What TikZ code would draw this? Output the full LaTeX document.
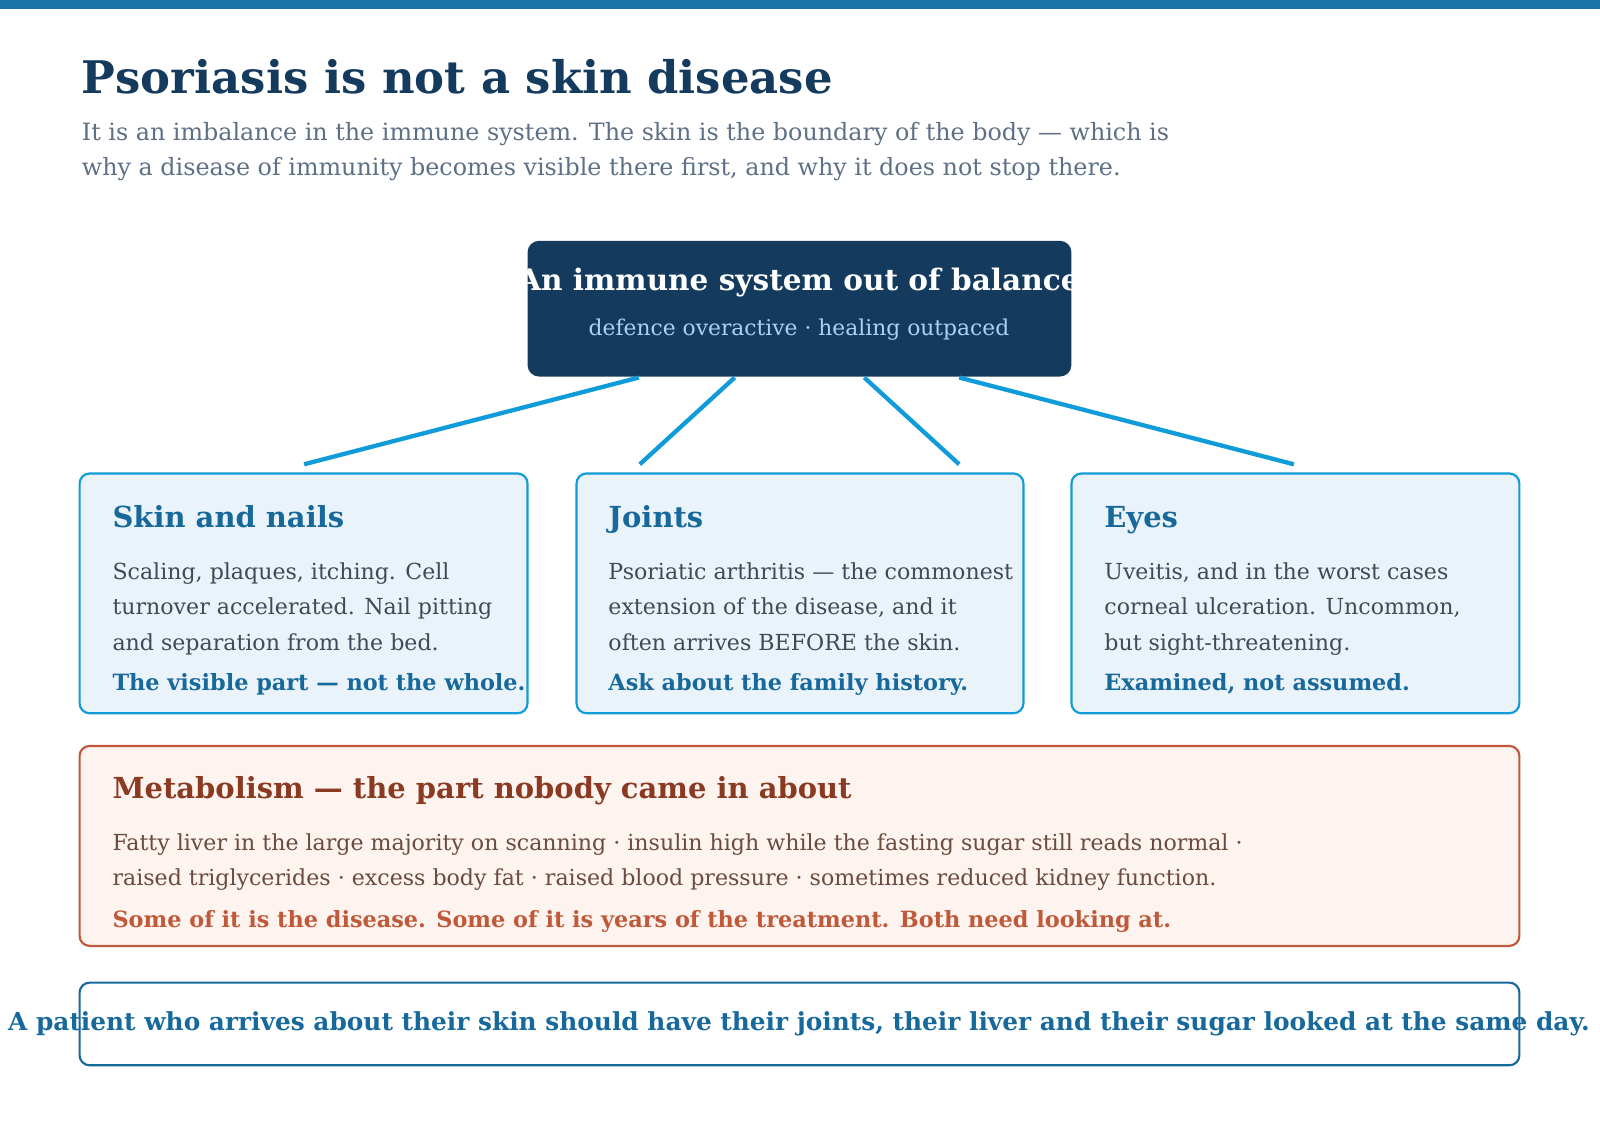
\documentclass[tikz,border=0pt]{standalone}
\usepackage{fontspec}
\setmainfont{DejaVu Serif}
\usetikzlibrary{positioning}
\definecolor{navy}{HTML}{143A5E}
\definecolor{topbar}{HTML}{1A72A8}
\definecolor{sky}{HTML}{109BD9}
\definecolor{paleblue}{HTML}{EAF3FA}
\definecolor{headblue}{HTML}{17699C}
\definecolor{greytext}{HTML}{5E7086}
\definecolor{bodytext}{HTML}{3E4A57}
\definecolor{rust}{HTML}{C0593A}
\definecolor{paleorange}{HTML}{FDF3EF}
\definecolor{darkrust}{HTML}{8B3A22}
\definecolor{brownish}{HTML}{6B4A3F}
\definecolor{lightsky}{HTML}{A9D3F2}
\tikzset{
  organ/.style={draw=sky, line width=1.5pt, fill=paleblue, rounded corners=7pt},
  heading/.style={anchor=base west, font=\fontsize{20.2}{24}\selectfont\bfseries, text=headblue, inner sep=0pt},
  body/.style={anchor=base west, font=\fontsize{15.4}{24.5}\selectfont, text=bodytext, align=left, inner sep=0pt},
  punch/.style={anchor=base west, font=\fontsize{15.6}{18}\selectfont\bfseries, text=headblue, inner sep=0pt},
  branch/.style={draw=sky, line width=3pt}
}
\begin{document}
\begin{tikzpicture}[x=0.025cm, y=-0.025cm]
\useasboundingbox (0,0) rectangle (1568,1098);
\fill[topbar] (0,0) rectangle (1568,9);

% title
\node[anchor=base west, inner sep=0pt, text=navy, font=\fontsize{31.3}{36}\selectfont\bfseries] (title) at (80,92) {Psoriasis is not a skin disease};
% (base anchor of a two-line node sits on its last line)
\node[anchor=base west, inner sep=0pt, text=greytext, align=left, font=\fontsize{16.6}{24.5}\selectfont] (sub) at (80,172)
  {It is an imbalance in the immune system. The skin is the boundary of the body --- which is\\
   why a disease of immunity becomes visible there first, and why it does not stop there.};

% centre
\fill[navy, rounded corners=8pt] (517,236) rectangle (1050,369);
\node[inner sep=0pt, text=white, font=\fontsize{20.6}{24}\selectfont\bfseries] (core) at (783,277) {An immune system out of balance};
\node[inner sep=0pt, text=lightsky, font=\fontsize{15.2}{18}\selectfont] (coresub) at (783,323) {defence overactive · healing outpaced};
\coordinate (c1) at (626,370); \coordinate (c2) at (720,370);
\coordinate (c3) at (847,370); \coordinate (c4) at (940,370);
\coordinate (t1) at (298,455); \coordinate (t2) at (627,455);
\coordinate (t3) at (940,455); \coordinate (t4) at (1268,455);
\draw[branch] (c1) -- (t1);
\draw[branch] (c2) -- (t2);
\draw[branch] (c3) -- (t3);
\draw[branch] (c4) -- (t4);

% organ boxes
\draw[organ] (78,464) rectangle (517,699);
\draw[organ] (565,464) rectangle (1003,699);
\draw[organ] (1050,464) rectangle (1489,699);

\node[heading] (skin) at (110,517) {Skin and nails};
\node[body] (skintxt) at (110,637) {Scaling, plaques, itching. Cell\\turnover accelerated. Nail pitting\\and separation from the bed.};
\node[punch] (skinp) at (110,677) {The visible part --- not the whole.};

\node[heading] (joint) at (596,517) {Joints};
\node[body] (jointtxt) at (596,637) {Psoriatic arthritis --- the commonest\\extension of the disease, and it\\often arrives BEFORE the skin.};
\node[punch] (jointp) at (596,677) {Ask about the family history.};

\node[heading] (eye) at (1082,517) {Eyes};
\node[body] (eyetxt) at (1082,637) {Uveitis, and in the worst cases\\corneal ulceration. Uncommon,\\but sight-threatening.};
\node[punch] (eyep) at (1082,677) {Examined, not assumed.};

% metabolism
\draw[draw=rust, line width=1.5pt, fill=paleorange, rounded corners=7pt] (78,731) rectangle (1489,927);
\node[heading, text=darkrust] (meta) at (110,783) {Metabolism --- the part nobody came in about};
\node[body, text=brownish] (metatxt) at (110,868) {Fatty liver in the large majority on scanning · insulin high while the fasting sugar still reads normal ·\\raised triglycerides · excess body fat · raised blood pressure · sometimes reduced kidney function.};
\node[punch, text=rust] (metap) at (110,909) {Some of it is the disease. Some of it is years of the treatment. Both need looking at.};

% bottom line
\draw[draw=headblue, line width=1.5pt, rounded corners=7pt] (78,963) rectangle (1489,1044);
\node[inner sep=0pt, text=headblue, font=\fontsize{17.3}{20}\selectfont\bfseries] (close) at (783,1003) {A patient who arrives about their skin should have their joints, their liver and their sugar looked at the same day.};
\end{tikzpicture}
\end{document}
